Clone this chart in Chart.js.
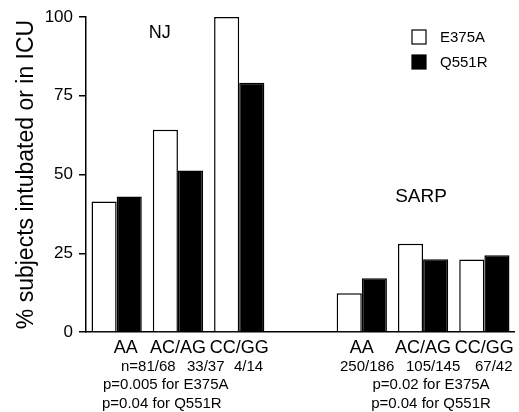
<!DOCTYPE html>
<html>
<head>
<meta charset="utf-8">
<script src="https://cdn.jsdelivr.net/npm/chart.js@4.4.1/dist/chart.umd.min.js"></script>
<style>
html,body{margin:0;padding:0;background:#fff;}
#wrap{width:519px;height:412px;position:relative;}
</style>
</head>
<body>
<div id="wrap"><canvas id="c" width="519" height="412"></canvas></div>
<script>
// ---- data ----
const categories = ["AA", "AC/AG", "CC/GG", "", "AA", "AC/AG", "CC/GG"];
const seriesNames = ["E375A", "Q551R"];
const e375a = [41.4, 64.2, 100, null, 12.3, 28.0, 23.0];
const q551r = [43.0, 51.3, 79.1, null, 17.1, 23.1, 24.4];
const yTicks = [0, 25, 50, 75, 100];
const groupNames = ["NJ", "SARP"];
const nCounts = [["n=81/68", "33/37", "4/14"], ["250/186", "105/145", "67/42"]];
const pE375A = ["p=0.005 for E375A", "p=0.02 for E375A"];
const pQ551R = ["p=0.04 for Q551R", "p=0.04 for Q551R"];
const yTitle = "% subjects intubated or in ICU";

const FONT = "'Liberation Sans', Arial, Helvetica, sans-serif";

const annotations = {
  id: 'annotations',
  afterDraw(chart) {
    const ctx = chart.ctx;
    const x = chart.scales.x;
    ctx.save();
    ctx.fillStyle = '#000';
    ctx.textBaseline = 'alphabetic';
    // group names
    ctx.textAlign = 'center';
    ctx.font = '18px ' + FONT;
    ctx.fillText(groupNames[0], x.getPixelForValue(0) + 43, 38);
    ctx.font = '19px ' + FONT;
    ctx.fillText(groupNames[1], x.getPixelForValue(5) - 2, 202);
    // n counts
    ctx.font = '15px ' + FONT;
    ctx.textAlign = 'left';
    const nX = [[121, 187, 234], [340, 406, 475]];
    const rowY = [371, 389, 408];
    for (let g = 0; g < 2; g++) {
      for (let k = 0; k < 3; k++) ctx.fillText(nCounts[g][k], nX[g][k], rowY[0]);
    }
    ctx.fillText(pE375A[0], 103, rowY[1]);
    ctx.fillText(pQ551R[0], 102, rowY[2]);
    ctx.textAlign = 'center';
    ctx.fillText(pE375A[1], 431, rowY[1]);
    ctx.fillText(pQ551R[1], 431, rowY[2]);
    // legend
    const ds = chart.data.datasets;
    const ly = [37, 62];
    ctx.font = '15px ' + FONT;
    ctx.textAlign = 'left';
    ctx.textBaseline = 'middle';
    for (let i = 0; i < ds.length; i++) {
      ctx.fillStyle = ds[i].backgroundColor;
      ctx.fillRect(412, ly[i] - 7, 14, 14);
      ctx.strokeStyle = '#000';
      ctx.lineWidth = 1.2;
      ctx.strokeRect(412, ly[i] - 7, 14, 14);
      ctx.fillStyle = '#000';
      ctx.fillText(ds[i].label, 440, ly[i] + 1);
    }
    ctx.restore();
  }
};

new Chart(document.getElementById('c'), {
  type: 'bar',
  data: {
    labels: categories,
    datasets: [
      { label: seriesNames[0], data: e375a, backgroundColor: '#ffffff', borderColor: '#000000', borderWidth: 1.5, borderSkipped: 'start' },
      { label: seriesNames[1], data: q551r, backgroundColor: '#000000', borderColor: '#000000', borderWidth: 1.5, borderSkipped: 'start' }
    ]
  },
  options: {
    responsive: false,
    animation: false,
    devicePixelRatio: 1,
    layout: { padding: { top: 17, right: 2, left: 0, bottom: 0 } },
    datasets: { bar: { barPercentage: 1.0, categoryPercentage: 0.82 } },
    plugins: { legend: { display: false }, tooltip: { enabled: false } },
    scales: {
      x: {
        grid: { display: false, drawTicks: false },
        border: { display: true, color: '#000', width: 1.5 },
        ticks: {
          color: '#000', font: { family: FONT, size: 18 }, padding: 5, maxRotation: 0, autoSkip: false,
          callback: function(v, i) { const l = categories[i]; return i === 0 ? '\u2002\u2002' + l : l; }
        },
        afterFit: s => { s.height = 80; }
      },
      y: {
        min: 0, max: 100,
        afterBuildTicks: s => { s.ticks = yTicks.map(v => ({ value: v })); },
        grid: { display: true, drawOnChartArea: false, drawTicks: true, tickLength: 7, color: '#000', lineWidth: 1.5 },
        border: { display: true, color: '#000', width: 1.5 },
        ticks: { color: '#000', font: { family: FONT, size: 17 }, padding: 6 },
        title: { display: true, text: yTitle, color: '#000', font: { family: FONT, size: 23 }, padding: { top: 13, bottom: 0 } },
        afterFit: s => { s.width = 86; }
      }
    }
  },
  plugins: [annotations]
});
</script>
</body>
</html>
